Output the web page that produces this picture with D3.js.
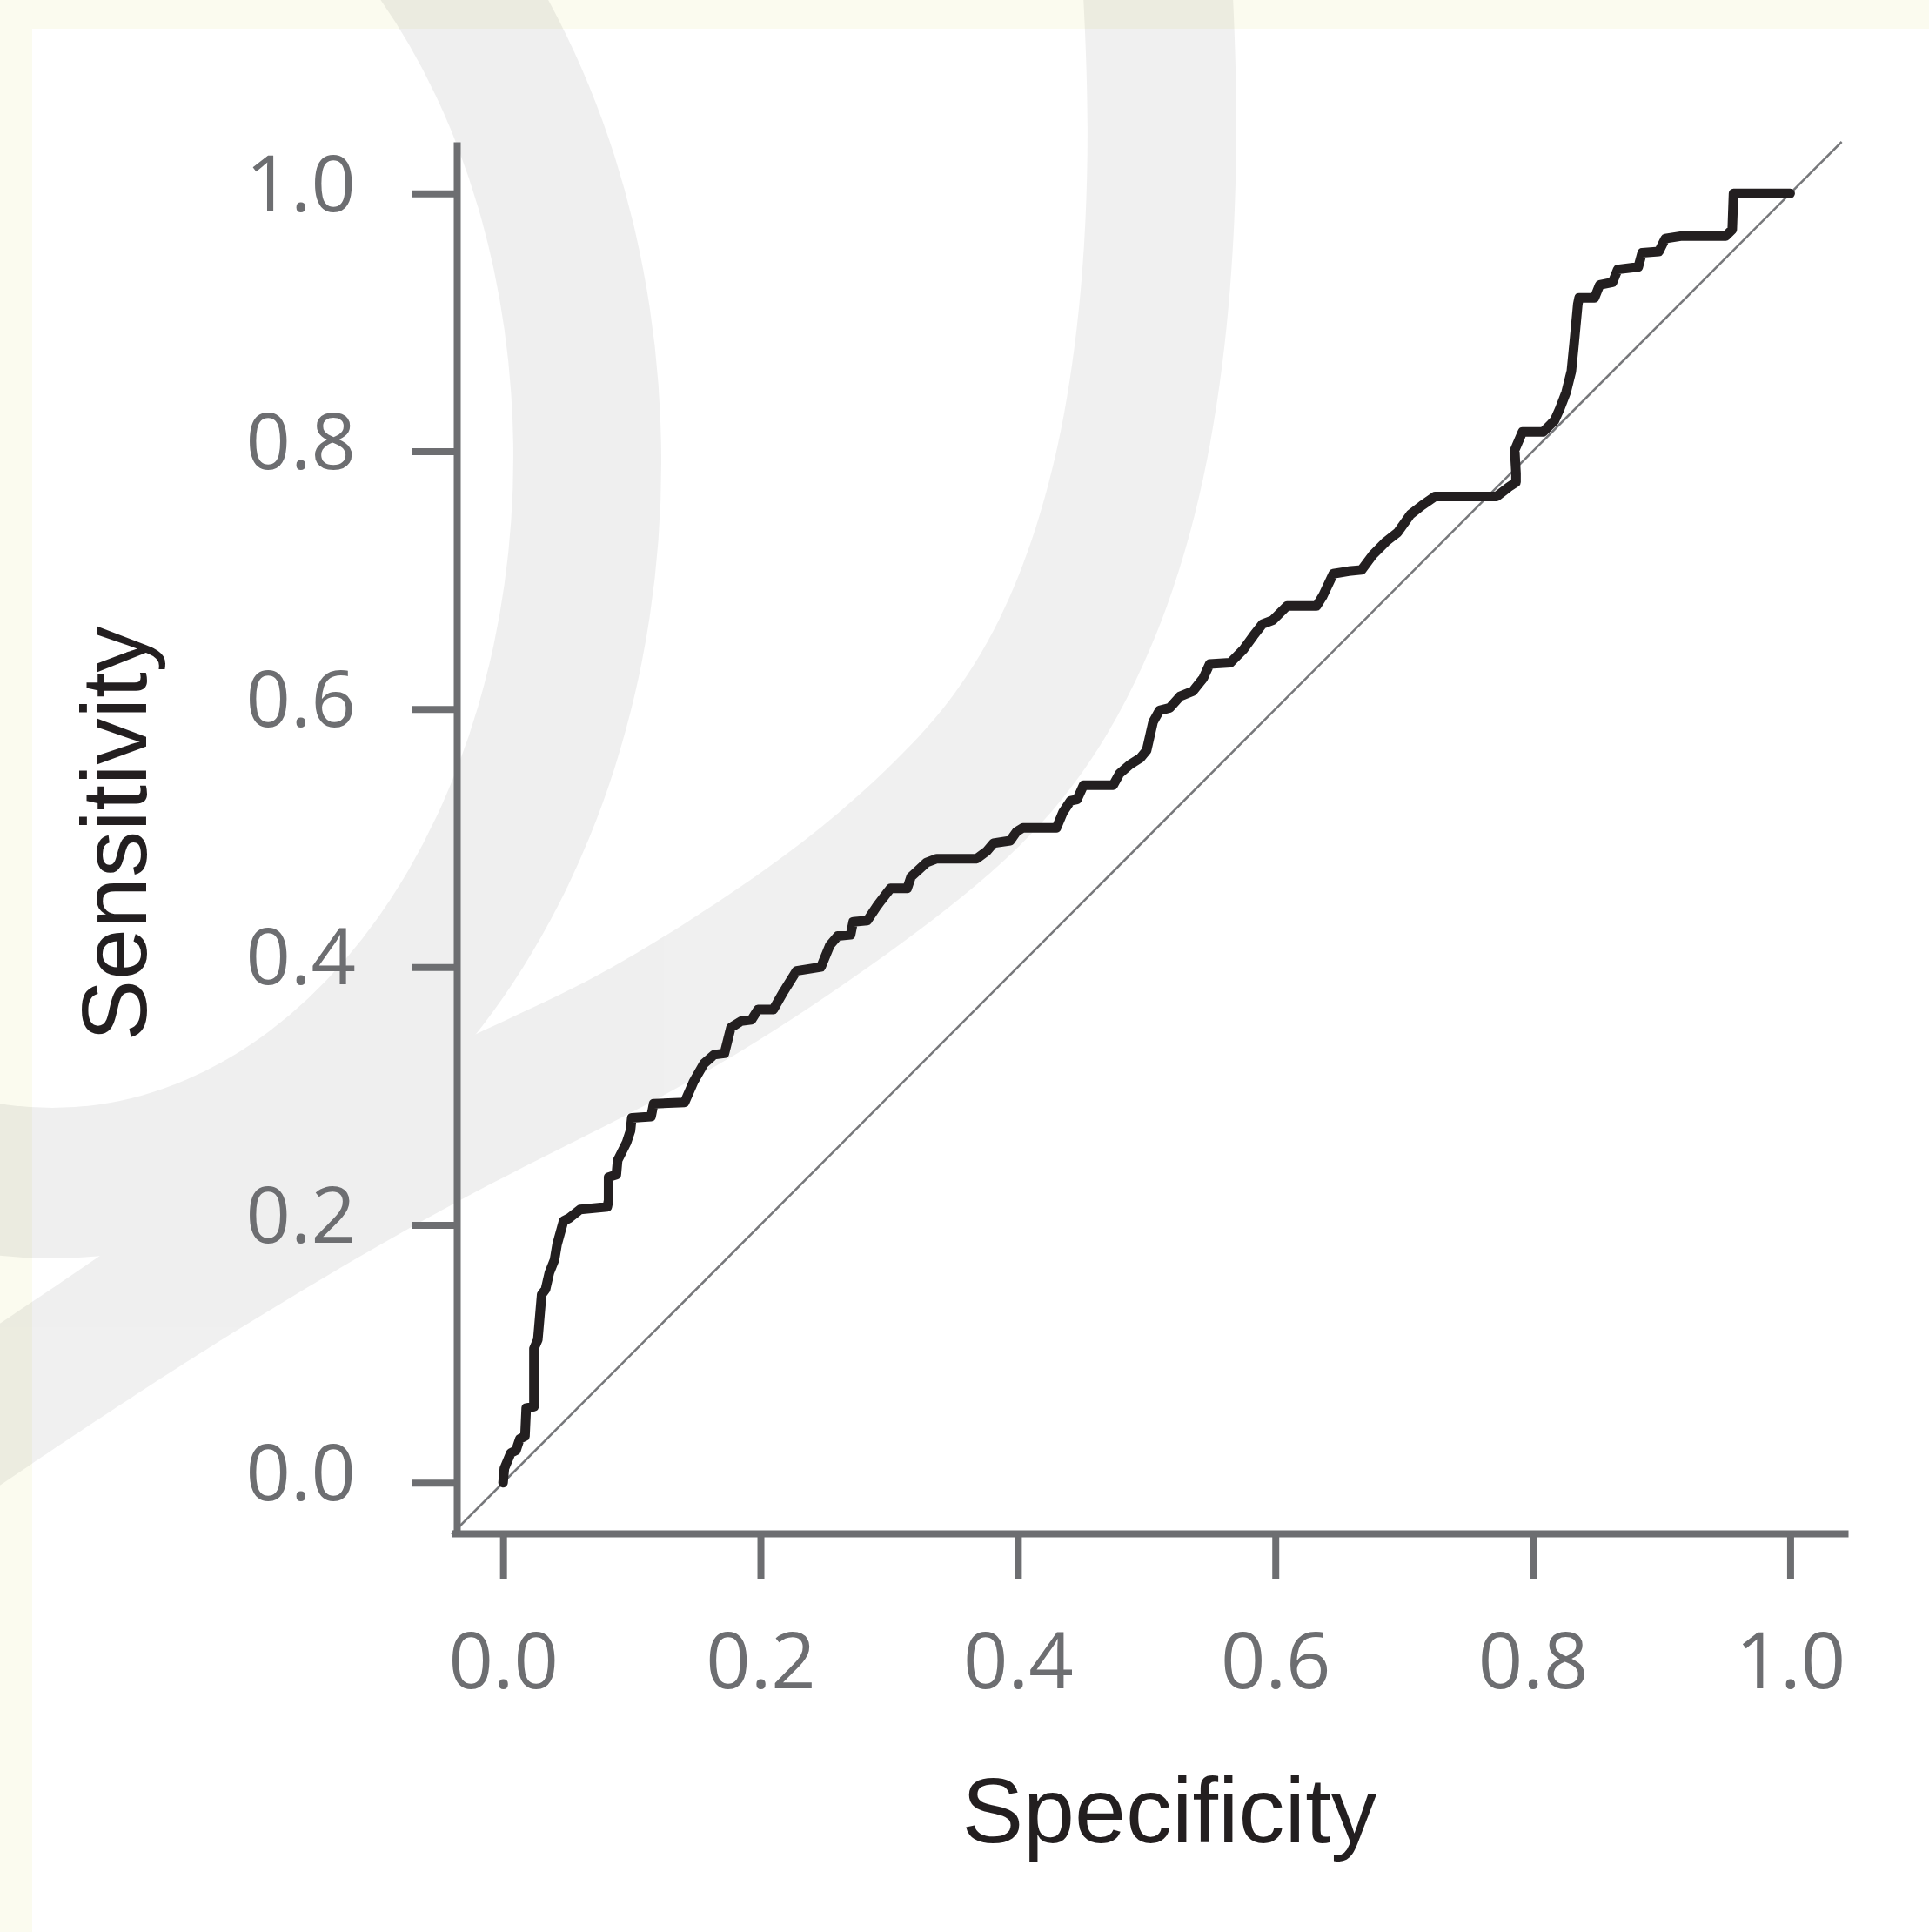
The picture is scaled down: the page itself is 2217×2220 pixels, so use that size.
<!DOCTYPE html>
<html>
<head>
<meta charset="utf-8">
<script src="https://cdn.jsdelivr.net/npm/d3@7/dist/d3.min.js"></script>
<style>
    body { margin: 0; background: #ffffff; }
</style>
</head>
<body>
<script>
//ROC curve, values
var specificity = [
    0.000, 0.001, 0.006, 0.010, 0.013, 0.017, 0.018, 0.024, 0.024, 0.027,
    0.030, 0.033, 0.036, 0.040, 0.042, 0.047, 0.051, 0.060, 0.081, 0.082,
    0.082, 0.088, 0.089, 0.096, 0.099, 0.100, 0.115, 0.117, 0.141, 0.148,
    0.156, 0.164, 0.172, 0.177, 0.185, 0.193, 0.198, 0.210, 0.218, 0.228,
    0.247, 0.254, 0.260, 0.270, 0.272, 0.283, 0.291, 0.301, 0.314, 0.317,
    0.329, 0.337, 0.368, 0.376, 0.381, 0.394, 0.399, 0.404, 0.430, 0.435,
    0.441, 0.446, 0.451, 0.474, 0.479, 0.487, 0.495, 0.500, 0.505, 0.510,
    0.518, 0.526, 0.536, 0.544, 0.549, 0.565, 0.575, 0.583, 0.590, 0.598,
    0.609, 0.632, 0.637, 0.645, 0.657, 0.667, 0.676, 0.686, 0.695, 0.705,
    0.714, 0.724, 0.772, 0.781, 0.787, 0.787, 0.786, 0.792, 0.808, 0.817,
    0.821, 0.826, 0.830, 0.832, 0.835, 0.836, 0.848, 0.852, 0.862, 0.866,
    0.882, 0.885, 0.898, 0.903, 0.916, 0.950, 0.955, 0.956, 0.961, 1.000
];
var sensitivity = [
    0.000, 0.011, 0.023, 0.025, 0.034, 0.036, 0.058, 0.059, 0.104, 0.111,
    0.146, 0.150, 0.163, 0.173, 0.185, 0.203, 0.205, 0.212, 0.214, 0.219,
    0.237, 0.239, 0.250, 0.264, 0.273, 0.283, 0.284, 0.294, 0.295, 0.311,
    0.325, 0.332, 0.333, 0.353, 0.358, 0.359, 0.367, 0.367, 0.381, 0.397,
    0.400, 0.417, 0.424, 0.425, 0.435, 0.436, 0.448, 0.461, 0.461, 0.470,
    0.481, 0.484, 0.484, 0.490, 0.496, 0.498, 0.505, 0.508, 0.508, 0.520,
    0.529, 0.530, 0.541, 0.541, 0.550, 0.557, 0.562, 0.568, 0.590, 0.599,
    0.601, 0.610, 0.614, 0.624, 0.635, 0.636, 0.646, 0.657, 0.666, 0.669,
    0.680, 0.680, 0.688, 0.705, 0.707, 0.708, 0.720, 0.730, 0.737, 0.751,
    0.758, 0.765, 0.765, 0.772, 0.776, 0.783, 0.801, 0.815, 0.815, 0.824,
    0.833, 0.846, 0.862, 0.882, 0.914, 0.919, 0.919, 0.929, 0.931, 0.941,
    0.943, 0.954, 0.955, 0.965, 0.967, 0.967, 0.972, 1.000, 1.000, 1.000
];
var tickValues = [0, 0.2, 0.4, 0.6, 0.8, 1.0];
var xLimits = [-0.04, 1.045];
var yLimits = [-0.04, 1.04];
var xTitle = 'Specificity';
var yTitle = 'Sensitivity';

var svgCanvasW = 2217, svgCanvasH = 2220;
var axisColor = '#6d6e71';
var tickFont = '"Open Sans", "DejaVu Sans", sans-serif';
var titleFont = '"Liberation Sans", Arial, sans-serif';

//background logo: left ring (two ellipses) and right band (two edges)
var ringInner = {cx: 60, cy: 525, rx: 530, ry: 748};
var ringOuter = {cx: 60, cy: 531, rx: 700, ry: 915};
var bandOuterEdge = [[1417, -5], [1423, 133], [1417, 332], [1391, 531], [1345, 700], [1275, 850],
    [1190, 960], [1090, 1045], [980, 1125], [860, 1205], [717, 1285], [521, 1379], [239, 1546], [-5, 1710]];
var bandInnerEdge = [[1245, -5], [1252, 141], [1246, 318], [1225, 480], [1192, 610], [1150, 715],
    [1098, 800], [1040, 865], [965, 935], [880, 1000], [790, 1060], [700, 1115], [620, 1155],
    [520, 1200], [400, 1262], [260, 1340], [115, 1444], [-5, 1524]];

//draw the layout
var mainLayout = d3.select('body')
    .append('svg')
    .attr('width', svgCanvasW)
    .attr('height', svgCanvasH);

//cream frame and white panel
mainLayout.append('rect')
    .attr('width', svgCanvasW)
    .attr('height', svgCanvasH)
    .style('fill', '#fbfbef');

mainLayout.append('rect')
    .attr('x', 37)
    .attr('y', 33)
    .attr('width', svgCanvasW - 37)
    .attr('height', svgCanvasH - 33)
    .style('fill', '#ffffff');

//faint logo in the background
function ellipsePath(e) {
    return 'M' + (e.cx + e.rx) + ',' + e.cy +
        'A' + e.rx + ',' + e.ry + ' 0 1 0 ' + (e.cx - e.rx) + ',' + e.cy +
        'A' + e.rx + ',' + e.ry + ' 0 1 0 ' + (e.cx + e.rx) + ',' + e.cy + 'Z';
}

var edgeCurve = d3.line().curve(d3.curveBasis);
var bandPath = edgeCurve(bandOuterEdge) +
    'L' + edgeCurve(bandInnerEdge.slice().reverse()).slice(1) + 'Z';

var watermark = mainLayout.append('g')
    .style('opacity', 0.059);

watermark.append('path')
    .attr('d', ellipsePath(ringOuter) + ellipsePath(ringInner))
    .attr('fill-rule', 'evenodd')
    .style('fill', '#000000');

watermark.append('path')
    .attr('d', bandPath)
    .style('fill', '#000000');

//scales
var x = d3.scaleLinear().domain(xLimits).range([519, 2124]);
var y = d3.scaleLinear().domain(yLimits).range([1763, 163]);

//reference diagonal
mainLayout.append('line')
    .attr('x1', x(yLimits[0]))
    .attr('y1', y(yLimits[0]))
    .attr('x2', x(yLimits[1]))
    .attr('y2', y(yLimits[1]))
    .style('stroke', '#77787b')
    .style('stroke-width', 2.5);

//y axis
var yAxis = mainLayout.append('g')
    .attr('transform', 'translate(525,0)')
    .call(d3.axisLeft(y)
        .tickValues(tickValues)
        .tickFormat(d3.format('.1f'))
        .tickSize(52)
        .tickSizeOuter(0)
        .tickPadding(64));

//x axis
var xAxis = mainLayout.append('g')
    .attr('transform', 'translate(0,1762)')
    .call(d3.axisBottom(x)
        .tickValues(tickValues)
        .tickFormat(d3.format('.1f'))
        .tickSize(52)
        .tickSizeOuter(0)
        .tickPadding(62));

mainLayout.selectAll('.domain, .tick line')
    .style('stroke', axisColor)
    .style('stroke-width', 8);

mainLayout.selectAll('.tick text')
    .style('fill', axisColor)
    .style('font-family', tickFont)
    .style('font-size', '90px');

yAxis.selectAll('.tick text').attr('dy', '0.22em');

//roc curve
var rocLine = d3.line()
    .x(function (d, i) { return x(specificity[i]); })
    .y(function (d, i) { return y(sensitivity[i]); });

mainLayout.append('path')
    .datum(specificity)
    .attr('d', rocLine)
    .style('fill', 'none')
    .style('stroke', '#231f20')
    .style('stroke-width', 11)
    .style('stroke-linejoin', 'round')
    .style('stroke-linecap', 'round');

//axis titles
mainLayout.append('text')
    .attr('x', 1344)
    .attr('y', 2117)
    .attr('text-anchor', 'middle')
    .text(xTitle)
    .style('font-family', titleFont)
    .style('font-size', '106px')
    .style('fill', '#231f20');

mainLayout.append('text')
    .attr('transform', 'translate(168,958) rotate(-90)')
    .attr('text-anchor', 'middle')
    .text(yTitle)
    .style('font-family', titleFont)
    .style('font-size', '106px')
    .style('fill', '#231f20');
</script>
</body>
</html>
